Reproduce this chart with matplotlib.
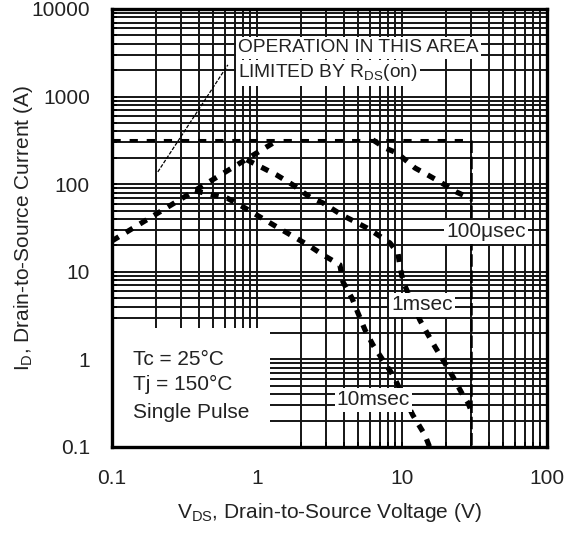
import matplotlib
matplotlib.use('Agg')
import matplotlib.pyplot as plt
from matplotlib.patches import Rectangle
from matplotlib.ticker import NullFormatter

plt.rcParams['font.family'] = ['Liberation Sans', 'DejaVu Sans']
plt.rcParams['mathtext.fontset'] = 'custom'
plt.rcParams['mathtext.rm'] = 'Liberation Sans'
plt.rcParams['mathtext.default'] = 'regular'

# ---- data ----
x_ticks = [0.1, 1, 10, 100]
x_tick_labels = ['0.1', '1', '10', '100']
y_ticks = [0.1, 1, 10, 100, 1000, 10000]
y_tick_labels = ['0.1', '1', '10', '100', '1000', '10000']

rds_v = [0.1, 1.4]
rds_i = [22.5, 320]

limit_h_v = [0.1, 30]
limit_h_i = [320, 320]
limit_v_v = [30, 30]
limit_v_i = [320, 0.1]

us100_v = [6.3, 7.64, 9.24, 12.3, 15.1, 18.3, 23.9, 30]
us100_i = [320, 259, 227, 153, 127, 106, 81, 68]

ms1_v = [0.85, 1.37, 1.77, 2.32, 2.85, 3.85, 5.74, 6.83, 8.26, 9.38, 9.7, 10.2,
         13.3, 14.9, 16.9, 19.2, 22.5, 25.9, 28.5, 30]
ms1_i = [190, 127, 98, 71, 61, 44.5, 31.6, 26.3, 21.3, 16.4, 11.3, 7.65,
         2.8, 2.0, 1.39, 0.98, 0.63, 0.41, 0.32, 0.26]

ms10_v = [0.373, 0.621, 0.826, 1.05, 1.37, 2.25, 2.85, 3.73, 3.92, 4.52, 4.97,
          5.56, 6.31, 7.39, 8.67, 11.9, 14.4, 15.5]
ms10_i = [84, 69.5, 53.5, 42.2, 32.5, 20.2, 15.6, 12.0, 7.65, 5.0, 3.39,
          2.17, 1.46, 0.98, 0.66, 0.23, 0.137, 0.1]

leader_v = [0.207, 0.63]
leader_i = [138, 2300]

# ---- figure ----
fig = plt.figure(figsize=(5.74, 5.33), dpi=100)
ax = fig.add_axes([0.1951, 0.1614, 0.7578, 0.8218])
ax.set_xscale('log')
ax.set_yscale('log')
ax.set_xlim(0.1, 100)
ax.set_ylim(0.1, 10000)

gc = '#151515'
glw = 1.4
for e in range(-1, 2):
    for m in range(1, 10):
        v = m * 10.0 ** e
        if 0.1 < v < 100:
            ax.axvline(v, color=gc, lw=glw, zorder=1)
for e in range(-1, 4):
    for m in range(1, 10):
        v = m * 10.0 ** e
        if 0.1 < v < 10000:
            ax.axhline(v, color=gc, lw=glw, zorder=1)

ax.add_patch(Rectangle((0, 0), 0.363, 0.272, transform=ax.transAxes,
                       facecolor='white', edgecolor='none', zorder=2))

# limits
ax.plot(limit_h_v, limit_h_i, color='black', lw=2.2, linestyle=(0, (2.7, 2.9)),
        dash_capstyle='butt', zorder=3)
ax.plot(limit_v_v, limit_v_i, color='black', lw=1.8, linestyle=(0, (5, 1.5)),
        dash_capstyle='butt', zorder=3)

thick = dict(color='black', lw=3.8, linestyle=(0, (1.5, 1.6)),
             dash_capstyle='butt', zorder=3.5)
ax.plot(rds_v, rds_i, **thick)
ax.plot(us100_v, us100_i, **thick)
ax.plot(ms1_v, ms1_i, **thick)
ax.plot(ms10_v, ms10_i, **thick)

ax.plot(leader_v, leader_i, color='black', lw=0.9, linestyle=(0, (3, 1.2)), zorder=3)

tc = '#222222'
box = dict(facecolor='white', edgecolor='none', pad=1.5)
ax.text(0.74, 3590, 'OPERATION IN THIS AREA', fontsize=13.8, color=tc,
        ha='left', va='center', bbox=box, zorder=5)
ax.text(0.74, 1858, r'LIMITED BY R$_{DS}$(on)', fontsize=13.8, color=tc,
        ha='left', va='center', bbox=box, zorder=5)
ax.text(37.9, 28.5, '100\u03bcsec', fontsize=15, color=tc, ha='center',
        va='center', bbox=box, zorder=5)
ax.text(13.7, 4.18, '1msec', fontsize=15, color=tc, ha='center',
        va='center', bbox=box, zorder=5)
ax.text(6.35, 0.344, '10msec', fontsize=15, color=tc, ha='center',
        va='center', bbox=box, zorder=5)

ax.text(0.048, 0.199, 'Tc = 25\u00b0C', transform=ax.transAxes, fontsize=15,
        color=tc, ha='left', va='center', zorder=5)
ax.text(0.048, 0.142, 'Tj = 150\u00b0C', transform=ax.transAxes, fontsize=15,
        color=tc, ha='left', va='center', zorder=5)
ax.text(0.048, 0.078, 'Single Pulse', transform=ax.transAxes, fontsize=15,
        color=tc, ha='left', va='center', zorder=5)

ax.set_xticks(x_ticks, labels=x_tick_labels)
ax.set_yticks(y_ticks, labels=y_tick_labels)
ax.xaxis.set_minor_formatter(NullFormatter())
ax.yaxis.set_minor_formatter(NullFormatter())
ax.tick_params(which='both', direction='in', length=3.6, width=1.2,
               color='black', labelsize=15, labelcolor=tc, pad=16)

for s in ax.spines.values():
    s.set_linewidth(2.4)
    s.set_zorder(6)

ax.set_xlabel(r'V$_{DS}$, Drain-to-Source Voltage (V)', fontsize=15, color=tc,
              labelpad=9)
ax.set_ylabel(r'I$_{D}$, Drain-to-Source Current (A)', fontsize=15, color=tc)
ax.yaxis.set_label_coords(-0.176, 0.5)

fig.savefig('out.png', dpi=100)
